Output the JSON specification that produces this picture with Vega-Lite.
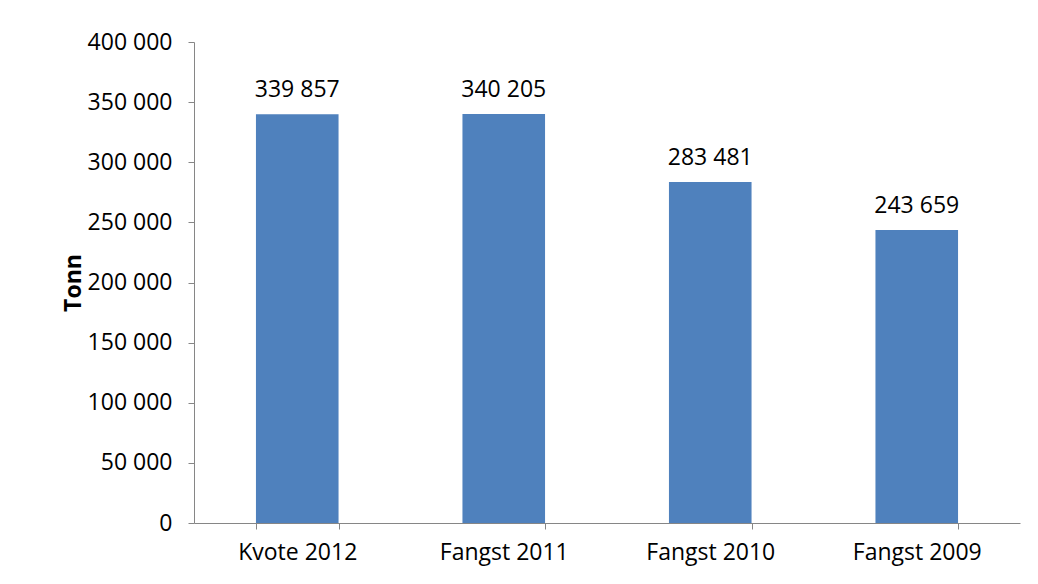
{
  "$schema": "https://vega.github.io/schema/vega-lite/v6.json",
  "width": 826,
  "height": 481,
  "autosize": {"type": "none"},
  "padding": {"left": 194, "top": 42, "right": 18, "bottom": 61},
  "background": "white",
  "data": {
    "values": [
      {"kategori": "Kvote 2012", "tonn": 339857},
      {"kategori": "Fangst 2011", "tonn": 340205},
      {"kategori": "Fangst 2010", "tonn": 283481},
      {"kategori": "Fangst 2009", "tonn": 243659}
    ]
  },
  "encoding": {
    "x": {
      "field": "kategori",
      "type": "nominal",
      "sort": null,
      "scale": {"paddingInner": 0.6, "paddingOuter": 0.3},
      "axis": {
        "title": null,
        "labelAngle": 0,
        "labelFontSize": 23,
        "labelPadding": 12,
        "tickBand": "extent",
        "tickSize": 6
      }
    },
    "y": {
      "field": "tonn",
      "type": "quantitative",
      "scale": {"domain": [0, 400000]},
      "axis": {
        "title": "Tonn",
        "titleFontWeight": "bold",
        "titleFontSize": 23,
        "titlePadding": 2,
        "values": [0, 50000, 100000, 150000, 200000, 250000, 300000, 350000, 400000],
        "labelOverlap": false,
        "labelExpr": "replace(format(datum.value, ','), /,/g, ' ')",
        "labelFontSize": 23,
        "labelPadding": 16,
        "tickSize": 6,
        "grid": false
      }
    }
  },
  "layer": [
    {"mark": {"type": "bar", "color": "#4F81BD"}},
    {
      "transform": [{"calculate": "replace(format(datum.tonn, ','), /,/g, ' ')", "as": "lbl"}],
      "mark": {"type": "text", "dy": -24, "fontSize": 23, "color": "black"},
      "encoding": {
        "text": {"field": "lbl", "type": "nominal"}
      }
    }
  ],
  "config": {
    "font": "Open Sans",
    "view": {"stroke": null},
    "axis": {
      "domainColor": "#868686",
      "tickColor": "#868686",
      "labelColor": "black",
      "titleColor": "black",
      "labelFont": "Open Sans",
      "titleFont": "Open Sans"
    }
  }
}
